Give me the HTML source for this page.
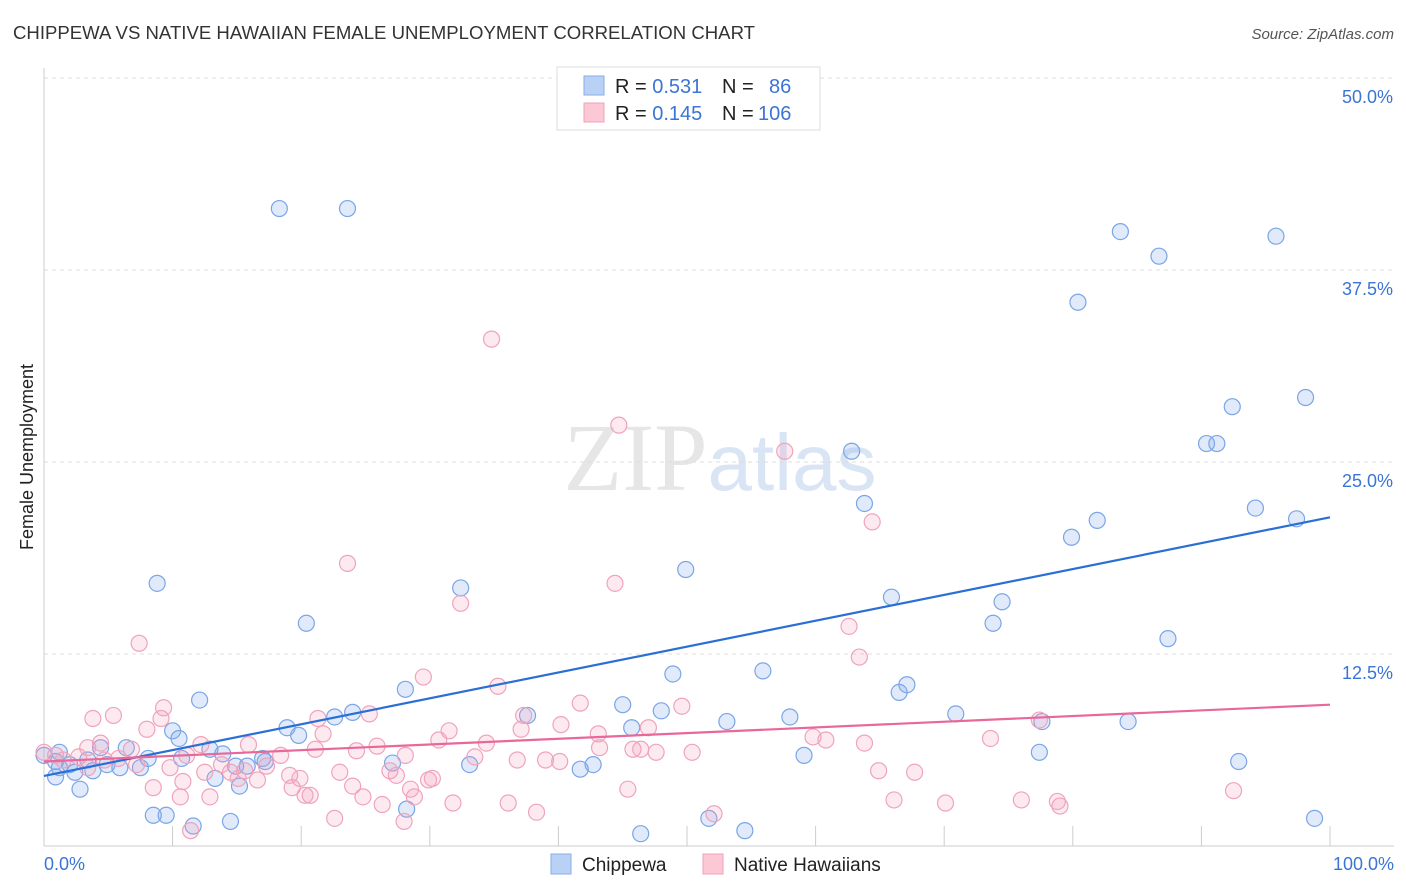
<!DOCTYPE html>
<html><head><meta charset="utf-8"><style>
body{margin:0;background:#fff;font-family:"Liberation Sans",sans-serif;}
svg{display:block}
</style></head><body>
<svg id="chart" width="1406" height="892" xmlns="http://www.w3.org/2000/svg">
<text x="13" y="39" font-size="18" fill="#333" font-family="Liberation Sans" textLength="742" lengthAdjust="spacingAndGlyphs">CHIPPEWA VS NATIVE HAWAIIAN FEMALE UNEMPLOYMENT CORRELATION CHART</text>
<text x="1394" y="39" font-size="15" fill="#555" text-anchor="end" font-style="italic">Source: ZipAtlas.com</text>
<text x="720" y="490" font-size="96" text-anchor="middle" fill="#e6e6e6" font-family="Liberation Serif">ZIP<tspan fill="#d9e4f4" font-family="Liberation Sans" font-size="80">atlas</tspan></text>
<g id="grid"></g>
<g id="axes"></g>
<g id="pts"></g>
<g id="trend"></g>
<g>
<rect x="557" y="67" width="263" height="63" fill="#fff" stroke="#ddd"/>
<rect x="584" y="76" width="20" height="19" fill="#b9d1f5" stroke="#86aee8"/>
<rect x="584" y="103" width="20" height="19" fill="#fcc8d6" stroke="#f0a0b8"/>
<text x="615" y="93" font-size="20" fill="#222">R = <tspan fill="#3b74d6">0.531</tspan><tspan x="722">N =</tspan><tspan x="769" fill="#3b74d6">86</tspan></text>
<text x="615" y="120" font-size="20" fill="#222">R = <tspan fill="#3b74d6">0.145</tspan><tspan x="722">N =</tspan><tspan x="758" fill="#3b74d6">106</tspan></text>
</g>
<g>
<rect x="551" y="854" width="20" height="20" fill="#b9d1f5" stroke="#86aee8"/>
<text x="582" y="871" font-size="19" fill="#222">Chippewa</text>
<rect x="703" y="854" width="20" height="20" fill="#fcc8d6" stroke="#f0a0b8"/>
<text x="734" y="871" font-size="19" fill="#222">Native Hawaiians</text>
</g>
<text transform="translate(33,457) rotate(-90)" font-size="18" fill="#222" text-anchor="middle">Female Unemployment</text>
</svg>
<script>
const yTicks=[12.5,25,37.5,50];
const yTickLabels=["12.5%","25.0%","37.5%","50.0%"];
const xTickLabels=["0.0%","100.0%"];
const chipX=[18.3,23.6,83.7,86.7,95.8,80.4,92.4,98.1,90.4,91.2,62.8,63.8,94.2,81.9,97.4,79.9,8.8,32.4,49.9,65.9,74.5,20.4,73.8,87.4,55.9,48.9,28.1,67.1,66.5,12.1,45.0,48.0,70.9,24.0,22.6,37.6,58.0,53.1,45.7,77.6,84.3,10.0,18.9,10.5,19.8,6.4,4.4,12.9,13.9,10.7,8.1,1.2,0,0.9,2.0,3.4,4.9,5.9,7.5,3.8,17.0,17.2,14.9,15.8,27.1,33.1,13.3,15.2,0.9,2.4,2.8,42.7,41.7,77.4,59.1,92.9,28.2,8.5,9.5,11.6,14.5,46.4,51.7,54.5,98.8,1.2];
const chipY=[41.5,41.5,40.0,38.4,39.7,35.4,28.6,29.2,26.2,26.2,25.7,22.3,22.0,21.2,21.3,20.1,17.1,16.8,18.0,16.2,15.9,14.5,14.5,13.5,11.4,11.2,10.2,10.5,10.0,9.5,9.2,8.8,8.6,8.7,8.4,8.5,8.4,8.1,7.7,8.1,8.1,7.5,7.7,7.0,7.2,6.4,6.4,6.3,6.0,5.7,5.7,6.1,5.9,5.5,5.3,5.6,5.3,5.1,5.1,4.9,5.7,5.5,5.2,5.2,5.4,5.3,4.4,3.9,4.5,4.8,3.7,5.3,5.0,6.1,5.9,5.5,2.4,2.0,2.0,1.3,1.6,0.8,1.8,1.0,1.8,5.1];
const hawX=[34.8,44.7,57.6,64.4,23.6,44.4,32.4,7.4,62.6,63.4,29.5,35.3,9.3,3.8,5.4,9.1,21.3,25.3,37.3,41.7,49.6,8.0,21.7,31.5,40.2,43.1,47.0,4.4,3.4,6.8,15.9,12.2,25.9,24.3,30.7,34.4,43.2,45.8,46.4,47.6,50.4,59.8,60.8,63.8,73.6,0,0.9,1.5,2.7,4.7,5.8,7.2,9.8,11.1,13.8,18.4,21.1,28.1,33.5,36.8,39.0,40.1,15.6,17.3,19.1,23.0,26.9,27.4,29.9,30.2,37.1,12.5,14.5,16.6,8.5,10.8,12.9,15.1,19.9,19.3,20.7,20.3,24.0,24.8,26.3,28.5,28.8,31.8,36.1,38.3,45.4,64.9,67.7,66.1,70.1,76.0,78.8,79.0,92.5,52.1,10.6,22.6,28.0,11.4,3.4,77.4];
const hawY=[33.0,27.4,25.7,21.1,18.4,17.1,15.8,13.2,14.3,12.3,11.0,10.4,9.0,8.3,8.5,8.3,8.3,8.6,8.5,9.3,9.1,7.6,7.3,7.5,7.9,7.3,7.7,6.7,6.4,6.3,6.6,6.6,6.5,6.2,6.9,6.7,6.4,6.3,6.3,6.1,6.1,7.1,6.9,6.7,7.0,6.1,5.9,5.6,5.8,5.6,5.7,5.3,5.1,5.9,5.3,5.9,6.3,5.9,5.8,5.6,5.6,5.5,4.9,5.2,4.6,4.8,4.9,4.6,4.3,4.4,7.6,4.8,4.8,4.3,3.8,4.2,3.2,4.4,4.4,3.8,3.3,3.3,3.9,3.2,2.7,3.7,3.2,2.8,2.8,2.2,3.7,4.9,4.8,3.0,2.8,3.0,2.9,2.6,3.6,2.1,3.2,1.8,1.6,1.0,5.1,8.2];
const chipTrend=[4.56,21.4];
const hawTrend=[5.5,9.2];
const NS="http://www.w3.org/2000/svg";
const sx=v=>44+v*12.86, sy=v=>846-v*15.36;
function mk(tag,attrs,parent){const e=document.createElementNS(NS,tag);for(const k in attrs)e.setAttribute(k,attrs[k]);parent.appendChild(e);return e;}
const grid=document.getElementById('grid'),axes=document.getElementById('axes'),pts=document.getElementById('pts'),trend=document.getElementById('trend');
yTicks.forEach((t,i)=>{
 const l=mk('line',{x1:44,x2:1394,y1:sy(t),y2:sy(t),stroke:'#ddd','stroke-dasharray':'4,4'},grid);
 
 
 const tx=mk('text',{x:1393,y:sy(t)+25,'font-size':18,fill:'#3b74d6','text-anchor':'end'},axes);
 tx.textContent=yTickLabels[i];
 
 
});
const xa=mk('line',{x1:44,x2:1394,y1:846,y2:846,stroke:'#ccc'},axes);


const ya=mk('line',{x1:44,x2:44,y1:68,y2:846,stroke:'#ccc'},axes);


for(let i=1;i<=10;i++){const t=mk('line',{x1:sx(i*10),x2:sx(i*10),y1:826,y2:846,stroke:'#ccc'},axes);
 
 }
[[0,'start',44],[100,'end',1394]].forEach((d,i)=>{const t=mk('text',{x:d[2],y:870,'font-size':18,fill:'#3b74d6','text-anchor':d[1]},axes);t.textContent=xTickLabels[i];
 
 });
function dots(X,Y,fill,stroke,name){X.forEach((x,i)=>{const c=mk('circle',{cx:sx(x),cy:sy(Y[i]),r:8,fill:fill,stroke:stroke,'stroke-width':1.2},pts);
 
 });}
dots(chipX,chipY,'rgba(130,170,235,0.25)','#7aa5e6','chippewa-point');
dots(hawX,hawY,'rgba(245,160,185,0.22)','#f0a3bb','native-hawaiian-point');
const l1=mk('line',{x1:sx(0),y1:sy(chipTrend[0]),x2:sx(100),y2:sy(chipTrend[1]),stroke:'#2a6fd6','stroke-width':2.2},trend);


const l2=mk('line',{x1:sx(0),y1:sy(hawTrend[0]),x2:sx(100),y2:sy(hawTrend[1]),stroke:'#e8689a','stroke-width':2.2},trend);


</script>
</body></html>
